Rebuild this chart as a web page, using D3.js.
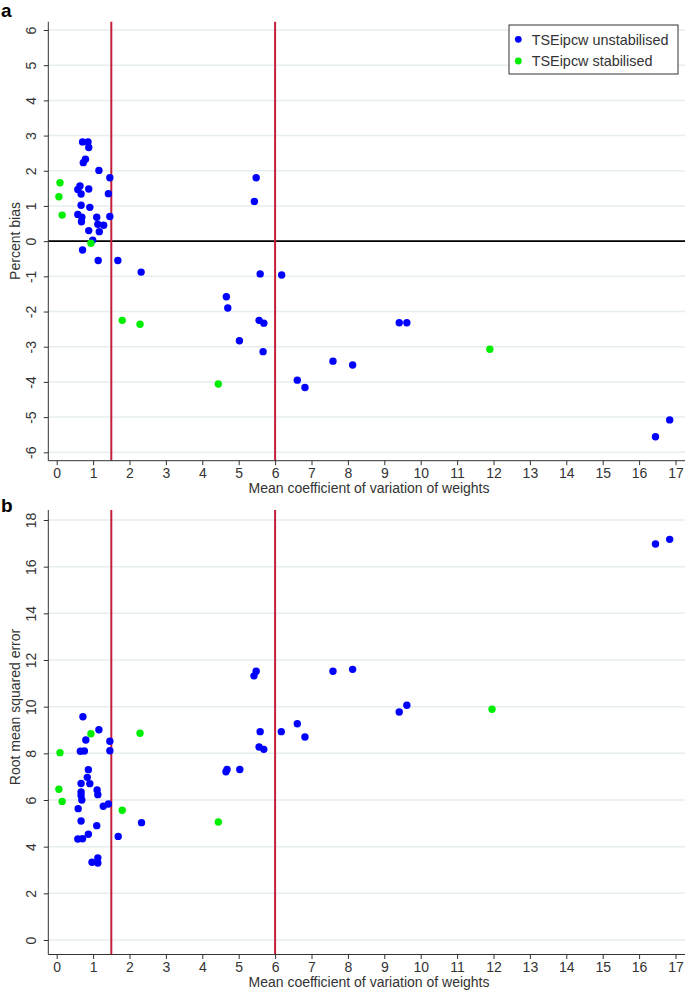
<!DOCTYPE html>
<html><head><meta charset="utf-8">
<script src="https://cdn.jsdelivr.net/npm/d3@7"></script>
<style>body{margin:0;background:#fff} svg text{font-family:"Liberation Sans",Arial,sans-serif;fill:#333}</style>
</head><body><svg id="c" width="685" height="990"></svg>
<script>
// ---- data ----
const xTicks = d3.range(0, 18);
const aYTicks = [-6,-5,-4,-3,-2,-1,0,1,2,3,4,5,6];
const bYTicks = [0,2,4,6,8,10,12,14,16,18];
const seriesNames = ["TSEipcw unstabilised", "TSEipcw stabilised"];
const xTitle = "Mean coefficient of variation of weights";
const aYTitle = "Percent bias";
const bYTitle = "Root mean squared error";
const refLines = [1.5, 6];

// panel a : unstabilised
const aBlueX = [0.71,0.86,0.88,0.73,0.79,1.16,1.46,0.64,0.58,0.67,0.88,1.42,0.67,0.91,0.58,0.69,0.68,1.10,1.46,1.13,1.29,1.17,0.88,0.99,0.71,1.14,1.68,2.32,
                5.48,5.43,5.59,6.18,4.66,4.70,5.56,5.69,5.02,5.67,6.61,6.82,7.59,8.13,9.41,9.62,16.45,16.84];
const aBlueY = [2.82,2.82,2.66,2.23,2.33,2.01,1.80,1.57,1.47,1.34,1.48,1.35,1.02,0.96,0.76,0.68,0.55,0.68,0.70,0.48,0.45,0.27,0.30,0.03,-0.25,-0.55,-0.55,-0.88,
                1.80,1.13,-0.93,-0.96,-1.58,-1.90,-2.25,-2.33,-2.83,-3.14,-3.95,-4.16,-3.41,-3.52,-2.32,-2.32,-5.56,-5.08];
// panel a : stabilised
const aGreenX = [0.09,0.06,0.15,0.94,1.80,2.29,4.44,11.90];
const aGreenY = [1.66,1.26,0.74,-0.06,-2.25,-2.36,-4.06,-3.07];

// panel b : unstabilised
const bBlueX = [0.72,1.16,0.80,1.46,1.46,0.65,0.76,0.87,0.84,0.91,0.67,1.11,1.13,0.67,0.67,0.69,1.28,1.42,0.59,2.33,0.67,1.10,0.87,1.69,0.58,0.71,0.97,1.13,1.13,
                5.42,5.48,7.59,8.13,9.41,9.62,5.59,6.17,6.61,6.82,5.56,5.69,4.68,4.65,5.03,16.45,16.84];
const bBlueY = [9.57,9.01,8.57,8.52,8.11,8.09,8.10,7.30,6.97,6.70,6.71,6.43,6.23,6.34,6.19,6.00,5.73,5.83,5.63,5.03,5.10,4.90,4.53,4.44,4.33,4.34,3.33,3.52,3.30,
                11.32,11.52,11.52,11.60,9.77,10.06,8.93,8.93,9.27,8.70,8.27,8.17,7.31,7.21,7.31,16.97,17.17];
// panel b : stabilised
const bGreenX = [0.94,2.29,0.09,0.06,0.15,1.80,4.44,11.96];
const bGreenY = [8.84,8.86,8.03,6.46,5.94,5.56,5.06,9.89];

// ---- drawing ----
const svg = d3.select("#c");
const BLUE = "#0000ff", GREEN = "#00ee00", RED = "#c41e3a", GRID = "#e6eef0";
const axisX = 48.3, rightEdge = 685;
const x = d3.scaleLinear().domain([0, 17]).range([56.7, 675.5]);

function panel(cfg) {
  const y = d3.scaleLinear().domain(cfg.domain).range(cfg.range);
  const g = svg.append("g");
  // gridlines
  g.selectAll("line.grid").data(cfg.yTicks).join("line")
    .attr("x1", axisX).attr("x2", rightEdge)
    .attr("y1", d => y(d)).attr("y2", d => y(d))
    .attr("stroke", GRID).attr("stroke-width", 1.5);
  // zero line
  if (cfg.zero) {
    g.append("line").attr("x1", axisX).attr("x2", rightEdge)
      .attr("y1", y(0)).attr("y2", y(0)).attr("stroke", "#000").attr("stroke-width", 1.6);
  }
  // reference lines
  g.selectAll("line.ref").data(refLines).join("line")
    .attr("x1", d => x(d)).attr("x2", d => x(d))
    .attr("y1", cfg.top).attr("y2", cfg.bottom)
    .attr("stroke", RED).attr("stroke-width", 2);
  // y axis
  const ya = g.append("g").attr("transform", `translate(${axisX},0)`)
    .call(d3.axisLeft(y).tickValues(cfg.yTicks).tickSize(4.5).tickSizeOuter(0).tickFormat(d => String(d)));
  ya.select(".domain").remove();
  ya.selectAll(".tick line").attr("stroke", "#333");
  ya.selectAll(".tick text").attr("x", null).attr("dy", null)
    .attr("transform", "translate(-12.5,0) rotate(-90)")
    .attr("text-anchor", "middle").style("font-size", "14px").attr("fill", "#333");
  g.append("line").attr("x1", axisX).attr("x2", axisX).attr("y1", cfg.top).attr("y2", cfg.bottom)
    .attr("stroke", "#333").attr("stroke-width", 1);
  // x axis
  const xa = g.append("g").attr("transform", `translate(0,${cfg.bottom})`)
    .call(d3.axisBottom(x).tickValues(xTicks).tickSize(4.5).tickSizeOuter(0).tickFormat(d => String(d)));
  xa.select(".domain").remove();
  xa.selectAll(".tick line").attr("stroke", "#333");
  xa.selectAll(".tick text").style("font-size", "14px").attr("fill", "#333");
  g.append("line").attr("x1", axisX).attr("x2", rightEdge).attr("y1", cfg.bottom).attr("y2", cfg.bottom)
    .attr("stroke", "#333").attr("stroke-width", 1);
  // titles
  g.append("text").attr("x", 369).attr("y", cfg.bottom + 32)
    .attr("text-anchor", "middle").style("font-size", "14px").text(xTitle);
  g.append("text").attr("transform", `translate(20,${cfg.yTitleY}) rotate(-90)`)
    .attr("text-anchor", "middle").style("font-size", "14px").text(cfg.yTitle);
  // points
  g.selectAll("circle.blue").data(cfg.bx.map((v, i) => [v, cfg.by[i]])).join("circle")
    .attr("cx", d => x(d[0])).attr("cy", d => y(d[1])).attr("r", 3.7).attr("fill", BLUE);
  g.selectAll("circle.green").data(cfg.gx.map((v, i) => [v, cfg.gy[i]])).join("circle")
    .attr("cx", d => x(d[0])).attr("cy", d => y(d[1])).attr("r", 3.7).attr("fill", GREEN);
  // panel letter
  svg.append("text").attr("x", 1).attr("y", cfg.letterY).style("font-size", "19px")
    .style("font-weight", "bold").style("fill", "#000").text(cfg.letter);
}

panel({domain: [-6, 6], range: [452.3, 30], top: 21.7, bottom: 460.7, yTicks: aYTicks, zero: true,
       yTitle: aYTitle, yTitleY: 241, bx: aBlueX, by: aBlueY, gx: aGreenX, gy: aGreenY, letter: "a", letterY: 17});
panel({domain: [0, 18], range: [940, 520], top: 510, bottom: 954.5, yTicks: bYTicks, zero: false,
       yTitle: bYTitle, yTitleY: 707, bx: bBlueX, by: bBlueY, gx: bGreenX, gy: bGreenY, letter: "b", letterY: 512});

// legend
const lg = svg.append("g");
lg.append("rect").attr("x", 509).attr("y", 25).attr("width", 169).attr("height", 49)
  .attr("fill", "#fff").attr("stroke", "#333").attr("stroke-width", 1);
[BLUE, GREEN].forEach((c, i) => {
  lg.append("circle").attr("cx", 518.3).attr("cy", 39.3 + i * 21.7).attr("r", 3.4).attr("fill", c);
  lg.append("text").attr("x", 531.7).attr("y", 44.5 + i * 21.7).style("font-size", "14.4px").text(seriesNames[i]);
});
</script></body></html>
